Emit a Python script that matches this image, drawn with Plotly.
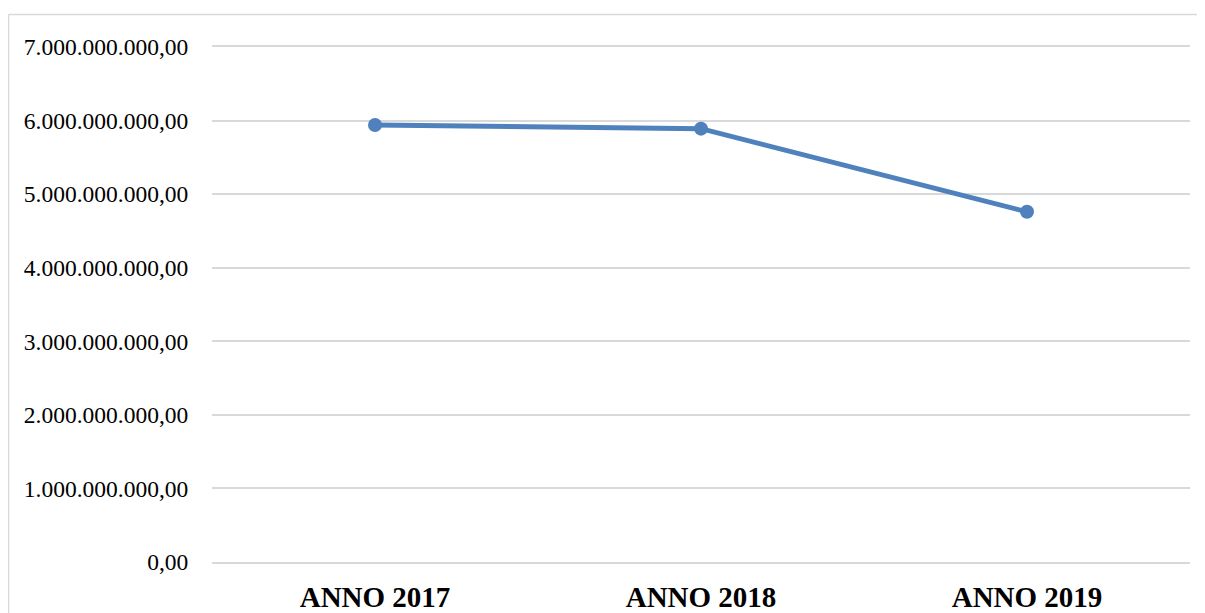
import plotly.graph_objects as go

categories = ["ANNO 2017", "ANNO 2018", "ANNO 2019"]
values = [5.94e9, 5.89e9, 4.76e9]
y_ticks = [0, 1e9, 2e9, 3e9, 4e9, 5e9, 6e9, 7e9]

# page body has an 8px margin; figure is sized/offset to compensate
W, H = 1197, 605
ML, MR, MT, MB = 204, 15, 39, 51
PW = W - ML - MR
PH = H - MT - MB

fig = go.Figure()
fig.add_trace(go.Scatter(
    x=categories, y=values, mode="lines+markers",
    line=dict(color="#4f81bd", width=5),
    marker=dict(color="#4f81bd", size=14),
    showlegend=False, cliponaxis=False,
))

# outer chart border (left and top visible)
bx0 = (0.5 - ML) / PW
by1 = 1 + (MT - 6.5) / PH
fig.add_shape(type="line", xref="paper", yref="paper",
              x0=bx0, x1=bx0, y0=-1, y1=by1,
              line=dict(color="#d9d9d9", width=1.5))
fig.add_shape(type="line", xref="paper", yref="paper",
              x0=bx0, x1=2, y0=by1, y1=by1,
              line=dict(color="#d9d9d9", width=1.5))

fig.update_layout(
    width=W, height=H,
    margin=dict(l=ML, r=MR, t=MT, b=MB, pad=0, autoexpand=False),
    paper_bgcolor="white", plot_bgcolor="white",
    separators=",.",
    font=dict(family="Liberation Serif, serif", color="black"),
    xaxis=dict(
        type="category", range=[-0.5, 2.5], showgrid=False, zeroline=False,
        showline=True, mirror=True, linecolor="#d9d9d9", linewidth=1.5,
        ticks="outside", ticklen=8, tickcolor="rgba(0,0,0,0)",
        tickfont=dict(family="Liberation Serif, serif", size=29, color="black", weight="bold"),
        fixedrange=True, automargin=False,
    ),
    yaxis=dict(
        range=[0, 7e9], tickvals=y_ticks, tickformat=",.2f",
        showgrid=True, gridcolor="#d9d9d9", gridwidth=1.5, zeroline=False,
        showline=False, ticks="outside", ticklen=18, tickcolor="rgba(0,0,0,0)",
        tickfont=dict(family="Liberation Serif, serif", size=23.5, color="black"),
        fixedrange=True, automargin=False,
    ),
)

fig.write_html("out.html")
